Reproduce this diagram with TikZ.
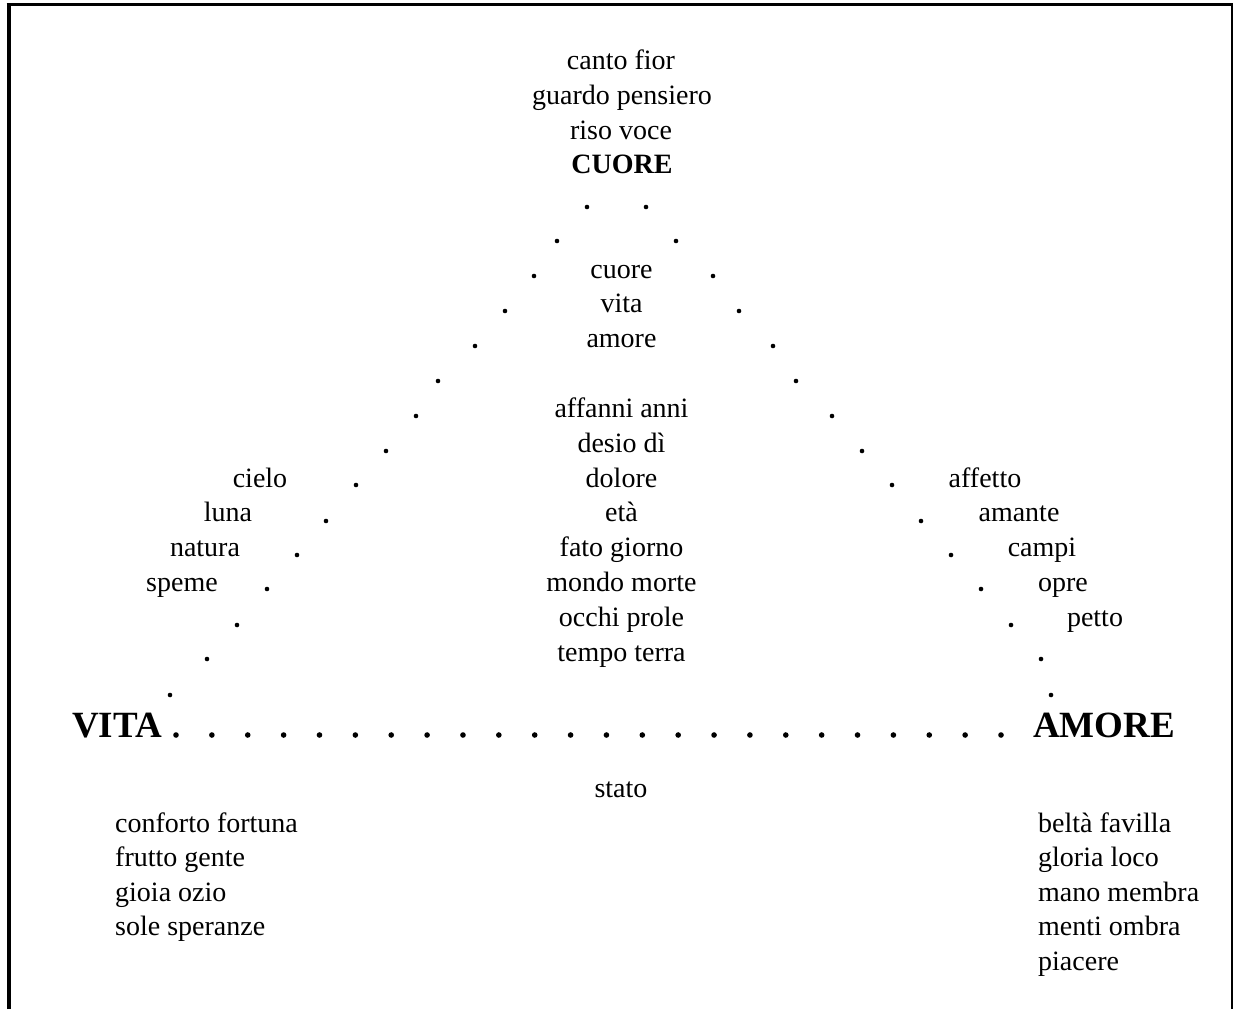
\documentclass[tikz,border=0pt]{standalone}
\usepackage{fontspec}
\setmainfont{Liberation Serif}
\begin{document}
\begin{tikzpicture}[x=1pt,y=-1pt,
  word/.style={inner sep=0pt,anchor=base,font=\fontsize{28}{34}\selectfont},
  wordl/.style={word,anchor=base west},
  bigword/.style={inner sep=0pt,anchor=base west,font=\fontsize{37}{44}\selectfont\bfseries},
  dotmark/.style={fill=black},
  frameline/.style={line cap=butt}]
\useasboundingbox (0,0) rectangle (1236,1009);
% frame (open at the bottom)
\draw[frameline,line width=4pt] (8.7,1009) -- (8.7,4.3);
\draw[frameline,line width=3.5pt] (6.7,4.3) -- (1233,4.3);
\draw[frameline,line width=2pt] (1232,4.3) -- (1232,1009);
% top words
\node[word] (t1) at (621,69) {canto fior};
\node[word] (t2) at (622,104) {guardo pensiero};
\node[word] (t3) at (621,139) {riso voce};
\node[word,font=\fontsize{28}{34}\selectfont\bfseries] (cuoreB) at (622,173) {CUORE};
% centre words
\node[word] (m1) at (621.5,278) {cuore};
\node[word] (m2) at (621.5,312) {vita};
\node[word] (m3) at (621.5,347) {amore};
\node[word] (m4) at (621.5,417) {affanni anni};
\node[word] (m5) at (621.5,452) {desio dì};
\node[word] (m6) at (621.5,487) {dolore};
\node[word] (m7) at (621.5,521) {età};
\node[word] (m8) at (621.5,556) {fato giorno};
\node[word] (m9) at (621.5,591) {mondo morte};
\node[word] (m10) at (621.5,626) {occhi prole};
\node[word] (m11) at (621.5,661) {tempo terra};
% left side words
\node[word] (l1) at (260,487) {cielo};
\node[word] (l2) at (228,521) {luna};
\node[word] (l3) at (205,556) {natura};
\node[word] (l4) at (182,591) {speme};
% right side words
\node[word] (r1) at (985,487) {affetto};
\node[word] (r2) at (1019,521) {amante};
\node[word] (r3) at (1042,556) {campi};
\node[word] (r4) at (1063,591) {opre};
\node[word] (r5) at (1095,626) {petto};
% corners
\node[bigword] (vita) at (72,737) {VITA};
\node[bigword] (amoreB) at (1033,737) {AMORE};
% below
\node[word] (stato) at (621,797) {stato};
\node[wordl] (b1) at (115,832) {conforto fortuna};
\node[wordl] (b2) at (115,866) {frutto gente};
\node[wordl] (b3) at (115,901) {gioia ozio};
\node[wordl] (b4) at (115,935) {sole speranze};
\node[wordl] (c1) at (1038,832) {beltà favilla};
\node[wordl] (c2) at (1038,866) {gloria loco};
\node[wordl] (c3) at (1038,901) {mano membra};
\node[wordl] (c4) at (1038,935) {menti ombra};
\node[wordl] (c5) at (1038,970) {piacere};
% dotted sides
\foreach \px/\py in {587/207,557/241,534/276,505/311,475/346,438/381,416/416,386/451,356/485,326/521,297/555,267/589,237/625,207/659,170/695}
  \fill[dotmark] (\px,\py) circle (2.3);
\foreach \px/\py in {646/207,676/241,713/276,739/311,773/346,796/381,832/416,862/451,892/485,921/521,951/555,981/589,1011/625,1041/659,1051/695}
  \fill[dotmark] (\px,\py) circle (2.3);
% dotted base
\foreach \i in {0,...,23}
  \fill[dotmark] (176+35.87*\i,735) circle (2.8);
\end{tikzpicture}
\end{document}
